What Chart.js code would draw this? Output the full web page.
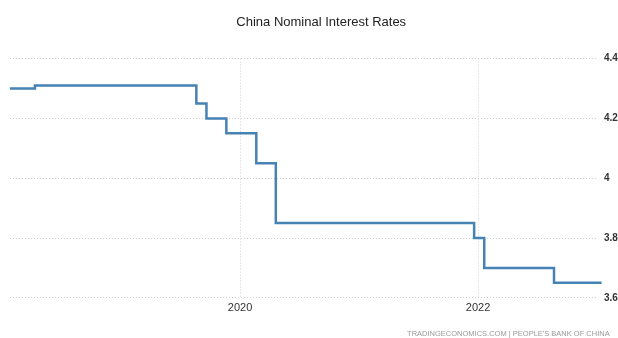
<!DOCTYPE html>
<html>
<head>
<meta charset="utf-8">
<script src="https://cdn.jsdelivr.net/npm/chart.js@4/dist/chart.umd.min.js"></script>
<style>
  html, body { margin: 0; padding: 0; background: #fff; }
  #wrap { width: 618px; height: 338px; position: relative; }
</style>
</head>
<body>
<div id="wrap"><canvas id="rates"></canvas></div>
<script>
// loan prime rate changes (date the rate took effect, percent)
const rateDates = ['2018-01-25', '2018-04-12', '2019-08-20', '2019-09-20', '2019-11-20',
                   '2020-02-20', '2020-04-20', '2021-12-20', '2022-01-20', '2022-08-22', '2023-01-15'];
const rateValues = [4.30, 4.31, 4.25, 4.20, 4.15, 4.05, 3.85, 3.80, 3.70, 3.65, 3.65];
const yearTicks = [2020, 2022];
const rateTicks = [3.6, 3.8, 4.0, 4.2, 4.4];

// turn 'YYYY-MM-DD' into a fractional year so a plain linear axis can be used
function toYear(s) {
  const [y, m, d] = s.split('-').map(Number);
  const start = Date.UTC(y, 0, 1);
  const end = Date.UTC(y + 1, 0, 1);
  return y + (Date.UTC(y, m - 1, d) - start) / (end - start);
}

const points = rateDates.map((d, i) => ({ x: toYear(d), y: rateValues[i] }));

const font = "'Liberation Sans', Arial, sans-serif";
const nbsp = '\u00a0';

function makeRateChart(element) {
  const chartConfig = {
    type: 'line',
    data: {
      datasets: [{
        label: 'Interest Rate',
        data: points,
        stepped: true,
        borderColor: '#4682b4',
        borderWidth: 2.5,
        pointRadius: 0,
        fill: false,
        clip: 8
      }]
    },
    options: {
      responsive: true,
      maintainAspectRatio: false,
      animation: false,
      layout: { padding: { left: 10, top: 7, right: 0, bottom: 0 } },
      scales: {
        x: {
          type: 'linear',
          min: 2018.067,
          max: 2023.008,
          afterBuildTicks: axis => { axis.ticks = yearTicks.map(v => ({ value: v })); },
          grid: { color: '#cfcfcf', drawTicks: false },
          border: { display: false, dash: [1, 2] },
          ticks: {
            padding: 4,
            color: '#333',
            font: { family: font, size: 11 },
            callback: v => String(v)
          }
        },
        y: {
          position: 'right',
          min: 3.6,
          max: 4.4,
          afterBuildTicks: axis => { axis.ticks = rateTicks.map(v => ({ value: v })); },
          afterFit: axis => { axis.width = 20; },
          grid: { color: '#cfcfcf', drawTicks: false },
          border: { display: false, dash: [1, 2] },
          ticks: {
            padding: 6,
            color: '#333',
            font: { family: font, size: 10, weight: 'bold' },
            callback: v => String(Math.round(v * 10) / 10)
          }
        }
      },
      plugins: {
        legend: { display: false },
        tooltip: { enabled: false },
        title: {
          display: true,
          text: nbsp.repeat(4) + 'China Nominal Interest Rates',
          color: '#222',
          font: { family: font, size: 13, weight: 'normal' },
          padding: { top: 7.5, bottom: 28.5 }
        },
        subtitle: {
          display: true,
          position: 'bottom',
          align: 'end',
          text: 'TRADINGECONOMICS.COM | PEOPLE\'S BANK OF CHINA' + nbsp.repeat(4),
          color: '#999',
          font: { family: font, size: 7.5 },
          padding: { top: 10, bottom: 0 }
        }
      }
    }
  };
  return new Chart(element, chartConfig);
}

makeRateChart(document.getElementById('rates'));
</script>
</body>
</html>
